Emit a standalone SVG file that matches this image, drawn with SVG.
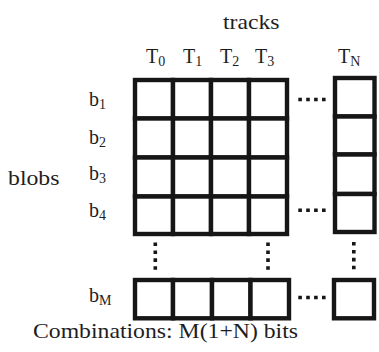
<svg xmlns="http://www.w3.org/2000/svg" width="379" height="352" viewBox="0 0 379 352">
<style>
.cell{fill:#fff;stroke:#161616;stroke-width:4.4}
.big{font-family:"Liberation Serif","Times New Roman",serif;font-size:22px;fill:#1e1e1e}
.lab{font-family:"Liberation Serif","Times New Roman",serif;font-size:20px;fill:#1e1e1e}
.sub{font-size:14px}
.dots{stroke:#161616;stroke-width:3.6;fill:none}
</style>
<rect width="379" height="352" fill="#fff"/>
<g id="title">
<text class="big" x="223" y="29" textLength="56.5" lengthAdjust="spacingAndGlyphs">tracks</text>
</g>
<g id="track-labels">
<text class="lab" x="146" y="63">T<tspan class="sub" dy="3">0</tspan></text>
<text class="lab" x="183" y="63">T<tspan class="sub" dy="3">1</tspan></text>
<text class="lab" x="220" y="63">T<tspan class="sub" dy="3">2</tspan></text>
<text class="lab" x="255" y="63">T<tspan class="sub" dy="3">3</tspan></text>
<text class="lab" x="338" y="63">T<tspan class="sub" dy="3">N</tspan></text>
</g>
<g id="blob-labels">
<text class="big" x="8" y="185" textLength="51.5" lengthAdjust="spacingAndGlyphs">blobs</text>
<text class="lab" x="89" y="106">b<tspan class="sub" dy="3">1</tspan></text>
<text class="lab" x="89" y="144">b<tspan class="sub" dy="3">2</tspan></text>
<text class="lab" x="89" y="180">b<tspan class="sub" dy="3">3</tspan></text>
<text class="lab" x="89" y="217">b<tspan class="sub" dy="3">4</tspan></text>
<text class="lab" x="89" y="302">b<tspan class="sub" dy="3">M</tspan></text>
</g>
<g id="grid">
<rect class="cell" x="135" y="80" width="38" height="38.5"/>
<rect class="cell" x="173" y="80" width="38" height="38.5"/>
<rect class="cell" x="211" y="80" width="38" height="38.5"/>
<rect class="cell" x="249" y="80" width="38" height="38.5"/>
<rect class="cell" x="135" y="118.5" width="38" height="39"/>
<rect class="cell" x="173" y="118.5" width="38" height="39"/>
<rect class="cell" x="211" y="118.5" width="38" height="39"/>
<rect class="cell" x="249" y="118.5" width="38" height="39"/>
<rect class="cell" x="135" y="157.5" width="38" height="39"/>
<rect class="cell" x="173" y="157.5" width="38" height="39"/>
<rect class="cell" x="211" y="157.5" width="38" height="39"/>
<rect class="cell" x="249" y="157.5" width="38" height="39"/>
<rect class="cell" x="135" y="196.5" width="38" height="37.5"/>
<rect class="cell" x="173" y="196.5" width="38" height="37.5"/>
<rect class="cell" x="211" y="196.5" width="38" height="37.5"/>
<rect class="cell" x="249" y="196.5" width="38" height="37.5"/>
</g>
<g id="tn-column">
<rect class="cell" x="335" y="78" width="39.5" height="38.5"/>
<rect class="cell" x="335" y="116.5" width="39.5" height="38"/>
<rect class="cell" x="335" y="154.5" width="39.5" height="39.5"/>
<rect class="cell" x="335" y="194" width="39.5" height="38"/>
</g>
<g id="row-bM">
<rect class="cell" x="135" y="280" width="38" height="38.3"/>
<rect class="cell" x="173" y="280" width="39" height="38.3"/>
<rect class="cell" x="212" y="280" width="38.5" height="38.3"/>
<rect class="cell" x="250.5" y="280" width="38.5" height="38.3"/>
<rect class="cell" x="334" y="280" width="40" height="38.3"/>
</g>
<g id="ellipses">
<line class="dots" x1="298.3" y1="99.5" x2="326" y2="99.5" stroke-dasharray="3.6 4.3"/>
<line class="dots" x1="298.3" y1="210.3" x2="326" y2="210.3" stroke-dasharray="3.6 4.3"/>
<line class="dots" x1="298.3" y1="297.5" x2="326" y2="297.5" stroke-dasharray="3.6 4.3"/>
<line class="dots" x1="155.3" y1="242.5" x2="155.3" y2="270" stroke-dasharray="3.6 4.3"/>
<line class="dots" x1="268" y1="242.5" x2="268" y2="270" stroke-dasharray="3.6 4.3"/>
<line class="dots" x1="353.8" y1="242" x2="353.8" y2="269.5" stroke-dasharray="3.6 4.3"/>
</g>
<g id="caption">
<text class="big" x="33" y="338" textLength="265" lengthAdjust="spacingAndGlyphs">Combinations: M(1+N) bits</text>
</g>
</svg>
